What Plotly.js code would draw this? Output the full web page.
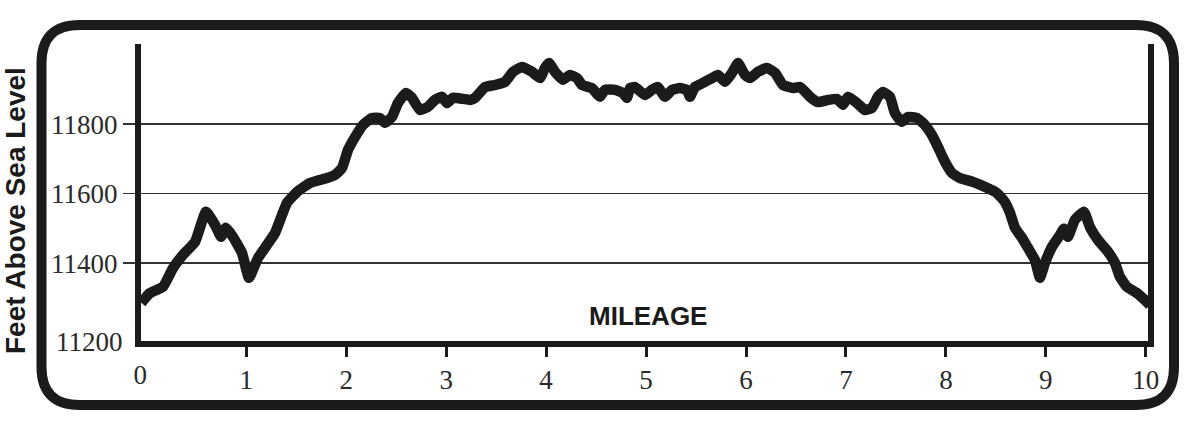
<!DOCTYPE html>
<html><head><meta charset="utf-8">
<script src="https://cdn.plot.ly/plotly-3.0.1.min.js"></script>
<style>html,body{margin:0;padding:0;background:#fff;} #chart{width:1200px;height:429px;}</style>
</head><body><div id="chart"></div>
<script>
// ---- data ----
const miles = [
  -0.05, 0.037, 0.167, 0.267, 0.367, 0.487, 0.597, 0.688, 0.748, 0.797,
  0.867, 0.957, 1.027, 1.118, 1.208, 1.288, 1.358, 1.408, 1.508, 1.638,
  1.808, 1.888, 1.958, 2.018, 2.088, 2.168, 2.258, 2.338, 2.388, 2.458,
  2.518, 2.598, 2.658, 2.738, 2.818, 2.888, 2.958, 3.008, 3.068, 3.168,
  3.239, 3.289, 3.389, 3.489, 3.589, 3.669, 3.759, 3.859, 3.939, 3.989,
  4.029, 4.089, 4.169, 4.239, 4.309, 4.359, 4.459, 4.539, 4.589, 4.689,
  4.769, 4.809, 4.839, 4.889, 4.989, 5.059, 5.119, 5.189, 5.259, 5.339,
  5.409, 5.439, 5.489, 5.570, 5.660, 5.720, 5.790, 5.860, 5.920, 5.990,
  6.040, 6.120, 6.210, 6.290, 6.370, 6.470, 6.540, 6.640, 6.720, 6.820,
  6.910, 6.970, 7.020, 7.110, 7.190, 7.260, 7.320, 7.370, 7.440, 7.490,
  7.560, 7.620, 7.710, 7.790, 7.860, 7.920, 7.990, 8.060, 8.140, 8.270,
  8.410, 8.511, 8.591, 8.641, 8.691, 8.761, 8.821, 8.891, 8.941, 8.991,
  9.061, 9.141, 9.181, 9.221, 9.291, 9.381, 9.441, 9.521, 9.621, 9.691,
  9.741, 9.811, 9.911, 9.991, 10.042
];
const elevationFt = [
  11286, 11314, 11332, 11386, 11424, 11461, 11548, 11510, 11476, 11502,
  11476, 11430, 11358, 11415, 11453, 11487, 11539, 11574, 11605, 11631,
  11645, 11654, 11674, 11726, 11763, 11798, 11818, 11818, 11804, 11821,
  11861, 11890, 11876, 11841, 11850, 11870, 11879, 11861, 11876, 11873,
  11870, 11876, 11907, 11913, 11922, 11951, 11965, 11951, 11933, 11962,
  11976, 11951, 11928, 11942, 11933, 11913, 11904, 11879, 11899, 11899,
  11890, 11876, 11904, 11907, 11884, 11899, 11907, 11879, 11899, 11904,
  11899, 11879, 11907, 11919, 11933, 11942, 11922, 11948, 11976, 11942,
  11933, 11951, 11962, 11948, 11913, 11904, 11907, 11879, 11864, 11870,
  11873, 11856, 11879, 11861, 11841, 11847, 11879, 11893, 11879, 11832,
  11807, 11821, 11818, 11798, 11769, 11735, 11692, 11660, 11645, 11634,
  11617, 11602, 11576, 11545, 11502, 11473, 11444, 11409, 11358, 11401,
  11447, 11481, 11499, 11476, 11525, 11548, 11504, 11467, 11433, 11401,
  11361, 11332, 11314, 11294, 11280
];
const yGridTicks = [11400, 11600, 11800];
const yBaseTick = [11200];
const xTicks = [1, 2, 3, 4, 5, 6, 7, 8, 9, 10];
const xBaseTick = [0];
const yTitleText = 'Feet Above Sea Level';
const xTitleText = 'MILEAGE';

// ---- layout geometry ----
const W = 1200, H = 429;
const M = {l: 141, r: 52, t: 44, b: 88};
const PW = W - M.l - M.r, PH = H - M.t - M.b;
const px = x => (x - M.l) / PW;          // pixel -> paper (x)
const py = y => (H - M.b - y) / PH;      // pixel -> paper (y)

const xRange = [-0.053, 10.022];
const yRange = [11176, 12031];

const ink = '#1b1b1b';
const serif = {family: 'Liberation Serif, Times New Roman, serif', size: 27, color: '#2a2a2a'};

// rounded frame
function roundRect(x0, y0, x1, y1, r) {
  const X0 = px(x0), X1 = px(x1), Yt = py(y0), Yb = py(y1);
  const rx = r / PW, ry = r / PH;
  return `M ${X0 + rx},${Yt} L ${X1 - rx},${Yt} Q ${X1},${Yt} ${X1},${Yt - ry} ` +
         `L ${X1},${Yb + ry} Q ${X1},${Yb} ${X1 - rx},${Yb} ` +
         `L ${X0 + rx},${Yb} Q ${X0},${Yb} ${X0},${Yb + ry} ` +
         `L ${X0},${Yt - ry} Q ${X0},${Yt} ${X0 + rx},${Yt} Z`;
}

const trace = {
  type: 'scatter', mode: 'lines', x: miles, y: elevationFt,
  line: {color: ink, width: 10.5, shape: 'spline', smoothing: 0.4},
  hoverinfo: 'x+y'
};

const layout = {
  width: W, height: H, autosize: false,
  margin: M,
  paper_bgcolor: '#ffffff', plot_bgcolor: '#ffffff',
  showlegend: false,
  xaxis: {
    range: xRange, tickvals: xTicks, ticktext: xTicks.map(String),
    ticks: 'outside', ticklen: 10, tickwidth: 3, tickcolor: ink,
    showline: true, linewidth: 6, linecolor: ink,
    showgrid: false, zeroline: false,
    tickfont: serif, fixedrange: true
  },
  xaxis2: {
    overlaying: 'x', matches: 'x', side: 'bottom', anchor: 'y',
    tickvals: xBaseTick, ticktext: xBaseTick.map(String),
    ticks: 'outside', ticklen: 10, tickwidth: 3, tickcolor: 'rgba(0,0,0,0)',
    ticklabelshift: -6,
    showline: false, showgrid: false, zeroline: false,
    tickfont: serif, fixedrange: true
  },
  yaxis: {
    range: yRange, tickvals: yGridTicks, ticktext: yGridTicks.map(String),
    ticks: 'outside', ticklen: 12, tickwidth: 1.5, tickcolor: '#333',
    showline: true, linewidth: 6, linecolor: ink, mirror: true,
    showgrid: true, gridcolor: '#333', gridwidth: 1.5,
    zeroline: false, tickfont: serif, fixedrange: true
  },
  yaxis2: {
    overlaying: 'y', matches: 'y', side: 'left', anchor: 'x',
    tickvals: yBaseTick, ticktext: yBaseTick.map(String),
    ticks: 'outside', ticklen: 12, tickwidth: 1.5, tickcolor: 'rgba(0,0,0,0)',
    ticklabelshift: 9,
    showline: false, showgrid: false, zeroline: false,
    tickfont: serif, fixedrange: true
  },
  shapes: [{
    type: 'path', xref: 'paper', yref: 'paper', layer: 'below',
    path: roundRect(41.5, 25, 1174, 405, 38),
    line: {color: ink, width: 10}, fillcolor: 'rgba(0,0,0,0)'
  }],
  annotations: [
    {text: yTitleText, xref: 'paper', yref: 'paper', x: px(15), y: py(211),
     textangle: -90, showarrow: false, xanchor: 'center', yanchor: 'middle',
     font: {family: 'Liberation Sans, Arial, sans-serif', size: 28, color: ink, weight: 'bold'}},
    {text: xTitleText, xref: 'paper', yref: 'paper', x: px(648), y: py(316),
     showarrow: false, xanchor: 'center', yanchor: 'middle',
     font: {family: 'Liberation Sans, Arial, sans-serif', size: 26, color: ink, weight: 'bold'}}
  ]
};

// invisible helper traces so the overlay axes are drawn
const helperX = {type: 'scatter', mode: 'none', x: xBaseTick, y: yBaseTick, xaxis: 'x2', yaxis: 'y', hoverinfo: 'skip'};
const helperY = {type: 'scatter', mode: 'none', x: xBaseTick, y: yBaseTick, xaxis: 'x', yaxis: 'y2', hoverinfo: 'skip'};

Plotly.newPlot('chart', [trace, helperX, helperY], layout, {displayModeBar: false, staticPlot: true});
</script>
</body></html>
